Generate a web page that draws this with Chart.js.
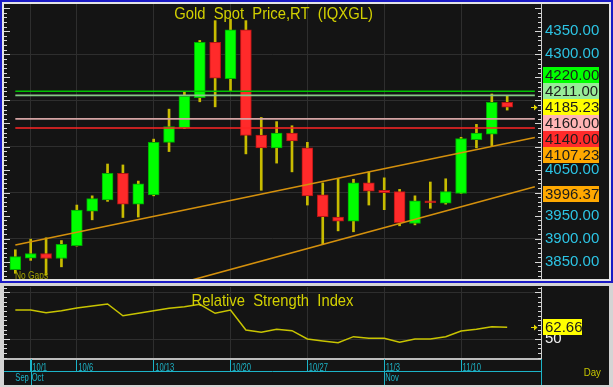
<!DOCTYPE html>
<html lang="en">
<head>
<meta charset="utf-8">
<title>Gold Spot Price,RT (IQXGL)</title>
<script src="https://cdn.jsdelivr.net/npm/chart.js@4.4.1/dist/chart.umd.min.js"></script>
<style>
    html, body { margin: 0; padding: 0; }
    body { position: relative; width: 613px; height: 387px; overflow: hidden; background: #d4d4d4; }
    #moldura { position: absolute; left: 0; top: 0; width: 609px; height: 279px; border: 2px solid #1a1ac4; background: #e4e4e4; }
    canvas { position: absolute; background: #141414; }
    #precoChart { left: 4px; top: 4px; }
    #rsiChart { left: 4px; top: 286px; }
</style>
</head>
<body>
<div id="moldura"></div>
<canvas id="precoChart" width="605" height="275"></canvas>
<canvas id="rsiChart" width="605" height="99"></canvas>
<script>
/* ==============================================
   DATA (daily candles, 9/30 .. 11/13)
   ============================================== */
const days = ['9/30', '10/1', '10/2', '10/3', '10/6', '10/7', '10/8', '10/9', '10/10',
    '10/13', '10/14', '10/15', '10/16', '10/17', '10/20', '10/21', '10/22', '10/23', '10/24',
    '10/27', '10/28', '10/29', '10/30', '10/31', '11/3', '11/4', '11/5', '11/6', '11/7',
    '11/10', '11/11', '11/12', '11/13'];
const opens  = [3833, 3858, 3868, 3857, 3885, 3960, 3984, 4042, 3975, 3995, 4109, 4141, 4206, 4326, 4247, 4353, 4125,
    4097, 4129, 4097, 3995, 3947, 3938, 4021, 4005, 4002, 3933, 3982, 3977, 3998, 4115, 4127, 4196];
const highs  = [3876, 3899, 3902, 3896, 3973, 3993, 4062, 4060, 4025, 4116, 4181, 4218, 4330, 4373, 4376, 4373, 4163,
    4154, 4145, 4109, 4021, 4031, 4029, 4045, 4032, 4007, 3993, 4023, 4030, 4120, 4148, 4214, 4210];
const lows   = [3825, 3853, 3821, 3839, 3884, 3941, 3981, 3946, 3947, 3993, 4089, 4139, 4197, 4186, 4220, 4084, 4005,
    4064, 4045, 3973, 3887, 3917, 3915, 3973, 3963, 3928, 3930, 3966, 3975, 3998, 4097, 4100, 4179];
const closes = [3861, 3868, 3857, 3888, 3962, 3987, 4042, 3975, 4019, 4109, 4143, 4209, 4326, 4248, 4353, 4124, 4097,
    4129, 4112, 3993, 3948, 3938, 4021, 4003, 4000, 3935, 3982, 3978, 4002, 4117, 4129, 4196, 4185.23];
const rsiValues = [81.0, 81.0, 78.2, 80.3, 83.2, 85.3, 87.5, 74.9, 77.5, 80.3, 82.9, 84.6, 87.2, 77.5, 81.0, 59.6, 57.2,
    60.4, 58.9, 50.0, 47.9, 46.0, 52.5, 50.7, 50.7, 46.5, 50.0, 50.0, 52.5, 58.6, 60.4, 63.2, 62.66];

const tickDays = ['10/1', '10/6', '10/13', '10/20', '10/27', '11/3', '11/10'];
const months = ['Sep', 'Oct', 'Nov'];
const monthFirstDays = ['9/30', '10/1', '11/3'];
const priceTicks = [3850, 3900, 3950, 4000, 4050, 4100, 4150, 4200, 4250, 4300, 4350];
const rsiTicks = [50, 100];

// horizontal price levels and the two channel lines ([day index, price])
const levelPrices = [4220, 4211, 4160, 4140];
const levelSpan = [0, 33.8];
const upperChannel = [[0, 3886.4], [32, 4107.23], [33.8, 4119.65]];
const lowerChannel = [[10, 3797.0], [32, 3996.37], [33.8, 4012.68]];

/* ==============================================
   STYLE
   ============================================== */
const X_MIN = -0.737, X_MAX = 34.2;
const PRICE_MIN = 3812.6, PRICE_MAX = 4409.1;
const RSI_MIN = 28.59, RSI_MAX = 105.67;
const GRID = '#2e2e2e';
const CYAN = '#2cc4e4';
const STRIP_CYAN = '#1cb4c8';
const YELLOW_TXT = '#d2d000';
const CHANNEL = '#d4900c';
const levelLineColors = ['#00c400', '#86c886', '#d4a4a4', '#ff2424'];
const levelBoxColors = ['#00ff00', '#98ec98', '#ffb4b4', '#ff2a2a'];

Chart.defaults.font.family = '"Liberation Sans", Arial, sans-serif';

let meuGraficoPreco;
let meuGraficoRsi;

/* ==============================================
   HELPERS
   ============================================== */
function squeezeText(ctx, text, x, y, size, sx, color, align) {
    ctx.save();
    ctx.font = size + 'px "Liberation Sans", Arial, sans-serif';
    ctx.fillStyle = color;
    ctx.textAlign = 'left';
    ctx.textBaseline = 'alphabetic';
    const w = ctx.measureText(text).width * sx;
    const left = align === 'center' ? x - w / 2 : x;
    ctx.translate(left, y);
    ctx.scale(sx, 1);
    ctx.fillText(text, 0, 0);
    ctx.restore();
}

function drawMinorTicks(ctx, scale, area, step, major) {
    ctx.save();
    ctx.strokeStyle = '#d8d8d8';
    ctx.lineWidth = 1;
    ctx.beginPath();
    const first = Math.ceil(scale.min / step);
    const last = Math.floor(scale.max / step);
    for (let k = first; k <= last; k++) {
        const v = k * step;
        const py = Math.round(scale.getPixelForValue(v)) + 0.5;
        const len = v % major === 0 ? 6 : 3;
        ctx.moveTo(area.left, py); ctx.lineTo(area.left + len, py);
        ctx.moveTo(area.right - len, py); ctx.lineTo(area.right, py);
    }
    ctx.stroke();
    ctx.restore();
}

function drawArrow(ctx, x, y, color) {
    ctx.save();
    ctx.strokeStyle = color;
    ctx.fillStyle = color;
    ctx.lineWidth = 1;
    ctx.beginPath();
    ctx.moveTo(x, y + 0.5); ctx.lineTo(x + 4, y + 0.5);
    ctx.stroke();
    ctx.beginPath();
    ctx.moveTo(x + 3, y - 2.5); ctx.lineTo(x + 6.5, y + 0.5); ctx.lineTo(x + 3, y + 3.5);
    ctx.closePath();
    ctx.fill();
    ctx.restore();
}

function drawTag(ctx, text, bg, x, cy, w, h) {
    const top = Math.round(cy - h / 2);
    ctx.save();
    ctx.fillStyle = bg;
    ctx.fillRect(x, top, w, h);
    ctx.font = '15px "Liberation Sans", Arial, sans-serif';
    ctx.fillStyle = '#1c1c1c';
    ctx.textBaseline = 'middle';
    ctx.textAlign = 'left';
    ctx.fillText(text, x + 2, top + h / 2 + 1);
    ctx.restore();
}

function lineValueAt(pts, xi) {
    for (let i = 0; i < pts.length - 1; i++) {
        const [x0, y0] = pts[i], [x1, y1] = pts[i + 1];
        if (xi >= x0 && xi <= x1) return y0 + (y1 - y0) * (xi - x0) / (x1 - x0);
    }
    return pts[pts.length - 1][1];
}

const dayTicks = s => { s.ticks = tickDays.map(d => ({ value: days.indexOf(d) })); };

/* ==============================================
   PLUGINS (tags, titles, date strip)
   ============================================== */
const precoDecor = {
    id: 'precoDecor',
    afterDraw(chart) {
        const { ctx, chartArea: area } = chart;
        const y = chart.scales.y;
        drawMinorTicks(ctx, y, area, 10, 50);

        const lastIdx = closes.length - 1;
        const tags = levelPrices.map((v, i) => ({ value: v, bg: levelBoxColors[i] }));
        tags.push({ value: closes[lastIdx], bg: '#ffff00', anchor: true });
        tags.push({ value: lineValueAt(upperChannel, lastIdx), bg: '#ffa800' });
        tags.push({ value: lineValueAt(lowerChannel, lastIdx), bg: '#ffa800' });
        tags.sort((a, b) => b.value - a.value);
        const h = 16;
        tags.forEach(t => { t.cy = y.getPixelForValue(t.value); });
        const a = tags.findIndex(t => t.anchor);
        for (let i = a - 1; i >= 0; i--) tags[i].cy = Math.min(tags[i].cy, tags[i + 1].cy - h);
        for (let i = a + 1; i < tags.length; i++) tags[i].cy = Math.max(tags[i].cy, tags[i - 1].cy + h);
        tags.forEach(t => drawTag(ctx, t.value.toFixed(2), t.bg, area.right + 2, t.cy, 56, h));

        drawArrow(ctx, area.right - 10, Math.round(y.getPixelForValue(closes[lastIdx])), '#e4d800');
        squeezeText(ctx, 'Gold  Spot  Price,RT  (IQXGL)', area.left + 269.5, area.top + 15.3, 17, 0.87, YELLOW_TXT, 'center');
        squeezeText(ctx, 'No Gaps', area.left + 11, area.bottom, 10, 0.84, '#a4a400');
    }
};

const rsiDecor = {
    id: 'rsiDecor',
    afterDraw(chart) {
        const { ctx, chartArea: area } = chart;
        const x = chart.scales.x, y = chart.scales.y;
        drawMinorTicks(ctx, y, area, 5, 50);

        const stripY = area.bottom + 12;
        ctx.save();
        ctx.strokeStyle = STRIP_CYAN;
        ctx.lineWidth = 1;
        ctx.beginPath();
        ctx.moveTo(area.left, stripY + 0.5); ctx.lineTo(area.right, stripY + 0.5);
        monthFirstDays.slice(1).forEach(d => {
            const px = Math.round(x.getPixelForValue(days.indexOf(d))) + 0.5;
            ctx.moveTo(px, area.bottom); ctx.lineTo(px, chart.height);
        });
        ctx.moveTo(area.right + 0.5, area.bottom); ctx.lineTo(area.right + 0.5, chart.height);
        ctx.stroke();
        ctx.restore();

        tickDays.forEach(d => {
            squeezeText(ctx, d, x.getPixelForValue(days.indexOf(d)) + 1.5, stripY, 10, 0.76, STRIP_CYAN);
        });
        months.forEach((m, i) => {
            const px = x.getPixelForValue(days.indexOf(monthFirstDays[i]));
            squeezeText(ctx, m, px + (i ? 1 : 0), area.bottom + 22, 10, 0.76, STRIP_CYAN);
        });
        squeezeText(ctx, 'Day', area.right + 42.7, area.bottom + 16.7, 11, 0.88, '#c4c400');

        const last = rsiValues.length - 1;
        const py = y.getPixelForValue(rsiValues[last]);
        drawTag(ctx, rsiValues[last].toFixed(2), '#ffff00', area.right + 2, py, 39, 16);
        drawArrow(ctx, area.right - 10, Math.round(py), '#e4d800');
        squeezeText(ctx, 'Relative  Strength  Index', area.left + 268.5, area.top + 18.7, 17, 0.87, YELLOW_TXT, 'center');
    }
};

/* ==============================================
   CHARTS
   ============================================== */
function inicializarGraficos() {
    const isUp = days.map((d, i) => closes[i] >= opens[i]);
    const bodyData = days.map((d, i) => ({ x: i, y: [opens[i], closes[i]] }));
    const wickData = days.map((d, i) => ({ x: i, y: [lows[i], highs[i]] }));

    const lineSets = levelPrices.map((v, i) => ({
        type: 'line',
        data: levelSpan.map(xv => ({ x: xv, y: v })),
        borderColor: levelLineColors[i],
        borderWidth: 1.6,
        pointRadius: 0,
        order: 0
    }));
    [upperChannel, lowerChannel].forEach(ch => lineSets.push({
        type: 'line',
        data: ch.map(([xv, yv]) => ({ x: xv, y: yv })),
        borderColor: CHANNEL,
        borderWidth: 1.6,
        pointRadius: 0,
        order: 0
    }));

    meuGraficoPreco = new Chart(document.getElementById('precoChart').getContext('2d'), {
        type: 'bar',
        data: {
            datasets: [
                ...lineSets,
                {
                    data: bodyData,
                    backgroundColor: isUp.map(u => u ? '#00ff00' : '#ff2a2a'),
                    borderColor: isUp.map(u => u ? '#00a800' : '#b41414'),
                    borderWidth: 1,
                    borderSkipped: false,
                    barThickness: 11,
                    maxBarThickness: 11,
                    grouped: false,
                    order: 1
                },
                {
                    data: wickData,
                    backgroundColor: '#c8bc00',
                    borderWidth: 0,
                    barThickness: 2,
                    maxBarThickness: 2,
                    grouped: false,
                    order: 2
                }
            ]
        },
        options: {
            responsive: false,
            animation: false,
            devicePixelRatio: 1,
            layout: { padding: 0 },
            plugins: { legend: { display: false }, tooltip: { enabled: false } },
            scales: {
                x: {
                    type: 'linear', min: X_MIN, max: X_MAX, bounds: 'data', offset: false,
                    grid: { color: GRID, offset: false, drawTicks: false },
                    border: { display: false },
                    ticks: { display: false },
                    afterBuildTicks: dayTicks,
                    afterFit: s => { s.height = 0; s.paddingLeft = 0; s.paddingRight = 0; }
                },
                y: {
                    type: 'linear', position: 'right', min: PRICE_MIN, max: PRICE_MAX, bounds: 'data', beginAtZero: false,
                    grid: { color: c => (c.tick && c.tick.value % 100 === 0) ? GRID : 'transparent', drawTicks: false },
                    border: { color: '#cfcfcf', width: 1 },
                    ticks: { color: CYAN, font: { size: 15 }, padding: 4, autoSkip: false, callback: v => Number(v).toFixed(2) },
                    afterBuildTicks: s => { s.ticks = priceTicks.map(v => ({ value: v })); },
                    afterFit: s => { s.width = 68; s.paddingTop = 0; s.paddingBottom = 0; }
                }
            }
        },
        plugins: [precoDecor]
    });

    meuGraficoRsi = new Chart(document.getElementById('rsiChart').getContext('2d'), {
        type: 'line',
        data: {
            datasets: [{
                data: rsiValues.map((v, i) => ({ x: i, y: v })),
                borderColor: '#c8c400',
                borderWidth: 1.5,
                pointRadius: 0,
                tension: 0
            }]
        },
        options: {
            responsive: false,
            animation: false,
            devicePixelRatio: 1,
            layout: { padding: { top: 1 } },
            plugins: { legend: { display: false }, tooltip: { enabled: false } },
            scales: {
                x: {
                    type: 'linear', min: X_MIN, max: X_MAX, bounds: 'data', offset: false,
                    grid: { color: GRID, offset: false, tickColor: STRIP_CYAN, tickLength: 12, drawTicks: true },
                    border: { color: '#bdbdbd', width: 2 },
                    ticks: { display: false },
                    afterBuildTicks: dayTicks,
                    afterFit: s => { s.height = 26; s.paddingLeft = 0; s.paddingRight = 0; }
                },
                y: {
                    type: 'linear', position: 'right', min: RSI_MIN, max: RSI_MAX, bounds: 'data',
                    grid: { color: GRID, drawTicks: false },
                    border: { color: '#cfcfcf', width: 1 },
                    ticks: { color: '#f2f2f2', font: { size: 15 }, padding: 4, autoSkip: false,
                        callback: v => v === rsiTicks[0] ? String(v) : '' },
                    afterBuildTicks: s => { s.ticks = rsiTicks.map(v => ({ value: v })); },
                    afterFit: s => { s.width = 68; s.paddingTop = 0; s.paddingBottom = 0; }
                }
            }
        },
        plugins: [rsiDecor]
    });
}

window.onload = () => {
    inicializarGraficos();
};
</script>
</body>
</html>
